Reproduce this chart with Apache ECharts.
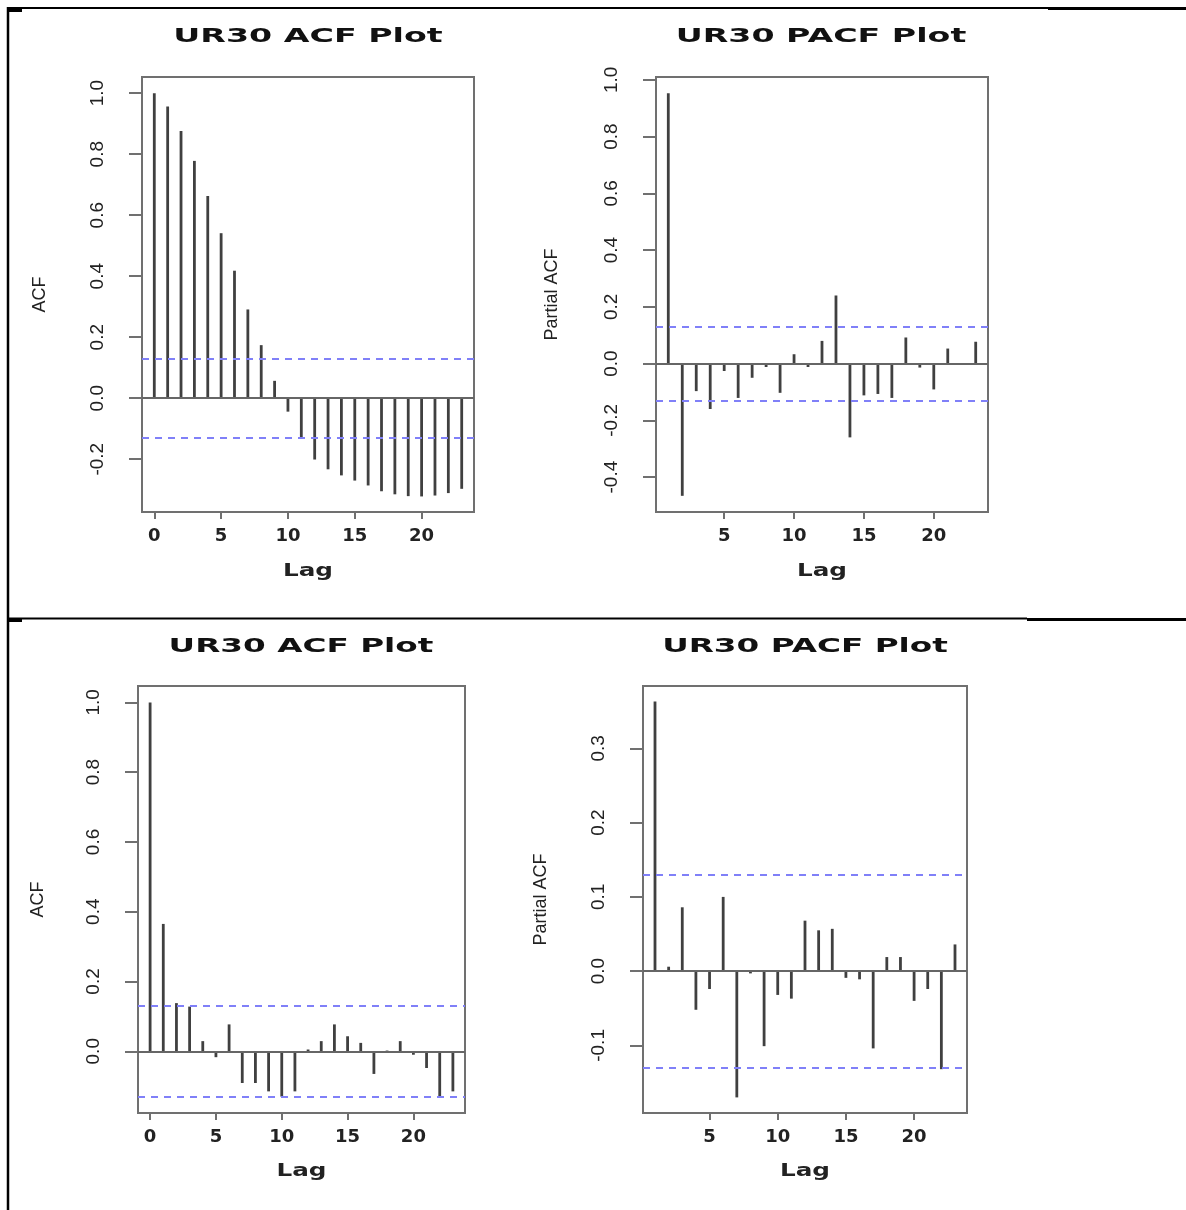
<!DOCTYPE html>
<html>
<head>
<meta charset="utf-8">
<script src="https://cdn.jsdelivr.net/npm/echarts@6/dist/echarts.min.js"></script>
<style>
html,body{margin:0;padding:0;background:#fff;}
#chart{width:1186px;height:1210px;}
</style>
</head>
<body>
<div id="chart"></div>
<script>
// ---------- data ----------
const acfTopLags = [0,1,2,3,4,5,6,7,8,9,10,11,12,13,14,15,16,17,18,19,20,21,22,23];
const acfTopValues = [1.0, 0.956, 0.876, 0.778, 0.663, 0.541, 0.418, 0.291, 0.174, 0.057, -0.044, -0.132, -0.201, -0.233, -0.253, -0.270, -0.286, -0.305, -0.315, -0.321, -0.322, -0.319, -0.311, -0.297];

const pacfTopLags = [1,2,3,4,5,6,7,8,9,10,11,12,13,14,15,16,17,18,19,20,21,22,23];
const pacfTopValues = [0.953, -0.466, -0.097, -0.160, -0.026, -0.121, -0.050, -0.012, -0.103, 0.033, -0.012, 0.080, 0.240, -0.260, -0.112, -0.107, -0.121, 0.092, -0.014, -0.091, 0.053, 0.002, 0.077];

const acfBottomLags = [0,1,2,3,4,5,6,7,8,9,10,11,12,13,14,15,16,17,18,19,20,21,22,23];
const acfBottomValues = [1.0, 0.365, 0.138, 0.128, 0.029, -0.017, 0.077, -0.091, -0.091, -0.115, -0.130, -0.115, 0.005, 0.029, 0.077, 0.043, 0.024, -0.065, 0.002, 0.029, -0.010, -0.048, -0.130, -0.115];

const pacfBottomLags = [1,2,3,4,5,6,7,8,9,10,11,12,13,14,15,16,17,18,19,20,21,22,23];
const pacfBottomValues = [0.363, 0.006, 0.086, -0.052, -0.024, 0.100, -0.170, -0.003, -0.101, -0.032, -0.037, 0.068, 0.055, 0.057, -0.009, -0.011, -0.104, 0.019, 0.019, -0.040, -0.024, -0.132, 0.036];

const confTop = 0.13;
const confBottom = 0.129;

const xTicksAcf = [0,5,10,15,20];
const xTicksPacf = [5,10,15,20];
const yTicksAcfTop = [-0.2,0.0,0.2,0.4,0.6,0.8,1.0];
const yTicksPacfTop = [-0.4,-0.2,0.0,0.2,0.4,0.6,0.8,1.0];
const yTicksAcfBottom = [0.0,0.2,0.4,0.6,0.8,1.0];
const yTicksPacfBottom = [-0.1,0.0,0.1,0.2,0.3];

const titles = ['UR30 ACF Plot','UR30 PACF Plot','UR30 ACF Plot','UR30 PACF Plot'];
const yLabels = ['ACF','Partial ACF','ACF','Partial ACF'];
const xLabel = 'Lag';

// ---------- layout ----------
const panels = [
  {grid:{left:142, top:77, width:332, height:435}, xr:[-0.92,23.92], yr:[-0.373,1.053], xt:xTicksAcf,  yt:yTicksAcfTop,    lags:acfTopLags,    vals:acfTopValues,    conf:confTop,    title:titles[0], ylab:yLabels[0], tx:308, ty:37,  sx:1.75, ylx:40,  lagY:571},
  {grid:{left:656, top:77, width:332, height:435}, xr:[0.12,23.88],  yr:[-0.523,1.010], xt:xTicksPacf, yt:yTicksPacfTop,   lags:pacfTopLags,   vals:pacfTopValues,   conf:confTop,    title:titles[1], ylab:yLabels[1], tx:821, ty:37,  sx:1.75, ylx:552, lagY:571},
  {grid:{left:138, top:686, width:327, height:427},xr:[-0.92,23.92], yr:[-0.177,1.047], xt:xTicksAcf,  yt:yTicksAcfBottom, lags:acfBottomLags, vals:acfBottomValues, conf:confBottom, title:titles[2], ylab:yLabels[2], tx:301, ty:647, sx:1.72, ylx:38,  lagY:1171},
  {grid:{left:643, top:686, width:324, height:427},xr:[0.12,23.88],  yr:[-0.191,0.384], xt:xTicksPacf, yt:yTicksPacfBottom,lags:pacfBottomLags,vals:pacfBottomValues,conf:confBottom, title:titles[3], ylab:yLabels[3], tx:805, ty:647, sx:1.72, ylx:541, lagY:1171}
];

const grids = [], xAxes = [], yAxes = [], series = [], graphics = [];
panels.forEach((p, i) => {
  grids.push(Object.assign({show:true, borderColor:'#707070', borderWidth:2, backgroundColor:'transparent'}, p.grid));
  xAxes.push({
    type:'value', gridIndex:i, min:p.xr[0], max:p.xr[1], position:'bottom',
    axisLine:{show:false, onZero:false}, splitLine:{show:false},
    axisTick:{show:true, length:7, lineStyle:{color:'#707070', width:2}, customValues:p.xt},
    axisLabel:{customValues:p.xt, formatter:v => String(v), fontFamily:'DejaVu Sans', fontWeight:'bold', fontSize:18, color:'#222', margin:15}
  });
  yAxes.push({
    type:'value', gridIndex:i, min:p.yr[0], max:p.yr[1], position:'left',
    axisLine:{show:false, onZero:false}, splitLine:{show:false},
    axisTick:{show:true, length:13, lineStyle:{color:'#707070', width:2}, customValues:p.yt},
    axisLabel:{customValues:p.yt, rotate:90, formatter:v => Number(v).toFixed(1), fontFamily:'Liberation Sans', fontSize:19, color:'#222', margin:35}
  });
  series.push({
    type:'bar', xAxisIndex:i, yAxisIndex:i, barWidth:2.8, silent:true,
    itemStyle:{color:'#404040'},
    data:p.lags.map((l, k) => [l, p.vals[k]]),
    markLine:{
      silent:true, symbol:'none', animation:false, label:{show:false},
      data:[
        {yAxis:0, lineStyle:{color:'#666', width:2, type:'solid'}},
        {yAxis:p.conf, lineStyle:{color:'#8080f8', width:2, type:[7,6]}},
        {yAxis:-p.conf, lineStyle:{color:'#8080f8', width:2, type:[7,6]}}
      ]
    }
  });
  graphics.push({type:'text', x:p.tx, y:p.ty, scaleX:p.sx, style:{text:p.title, font:'bold 19px "DejaVu Sans"', fill:'#111', align:'center', verticalAlign:'middle'}});
  graphics.push({type:'text', x:p.grid.left + p.grid.width/2, y:p.lagY, scaleX:1.37, style:{text:xLabel, font:'bold 18px "DejaVu Sans"', fill:'#222', align:'center', verticalAlign:'middle'}});
  graphics.push({type:'text', x:p.ylx, y:p.grid.top + p.grid.height/2, rotation:Math.PI/2, style:{text:p.ylab, font:'18px "Liberation Sans"', fill:'#222', align:'center', verticalAlign:'middle'}});
});

// page frame lines
const frame = [
  [7,8,1048,8,2],[1048,8.5,1186,8.5,3],[8,7,8,1210,2.5],[8,10.5,22,10.5,3],
  [8,618.5,1027,618.5,1.8],[1027,619.5,1186,619.5,3],[8,620.5,22,620.5,3]
];
frame.forEach(f => graphics.push({type:'line', shape:{x1:f[0],y1:f[1],x2:f[2],y2:f[3]}, style:{stroke:'#000', lineWidth:f[4]}}));

const chart = echarts.init(document.getElementById('chart'), null, {renderer:'canvas'});
chart.setOption({
  animation:false,
  backgroundColor:'#fff',
  grid:grids, xAxis:xAxes, yAxis:yAxes, series:series, graphic:graphics
});
</script>
</body>
</html>
